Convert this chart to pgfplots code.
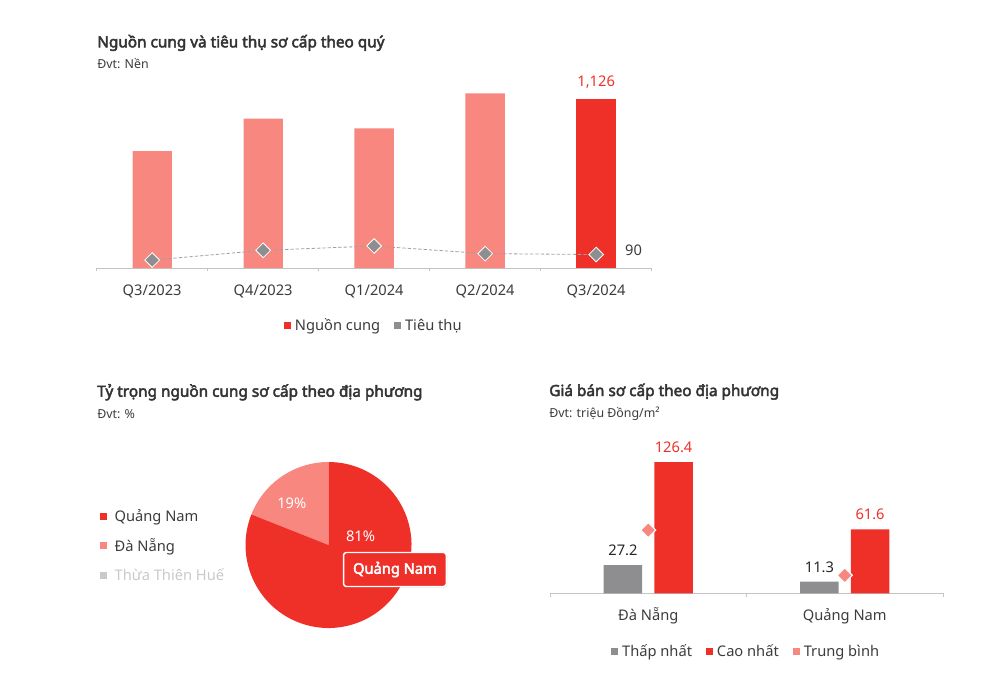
\documentclass[border=0pt]{standalone}
\usepackage{fontspec}
\setmainfont{Noto Sans}[BoldFont={Noto Sans}, BoldFeatures={FakeBold=3}]
\usepackage{pgfplots}
\pgfplotsset{compat=1.18}
\usetikzlibrary{shadows}

\definecolor{cRed}{HTML}{EE3029}
\definecolor{cSalmon}{HTML}{F8877F}
\definecolor{cGray}{HTML}{8E8E90}
\definecolor{cLight}{HTML}{C9C9C9}
\definecolor{cAxis}{HTML}{C4C4C4}
\definecolor{cText}{HTML}{3C3C3C}
\definecolor{cTitle}{HTML}{333333}
\definecolor{cLine}{HTML}{A0A0A0}

\newcommand\lbl{\fontsize{11}{13}\selectfont}
\newcommand\ttl{\bfseries\fontsize{11.5}{13}\selectfont}
\newcommand\sub{\fontsize{9.3}{11}\selectfont}

\pgfplotsset{
  sqlegend/.style={
    legend image code/.code={\fill[##1] (0pt,-2.25pt) rectangle (4.5pt,2.25pt); \path[draw=none, fill=none] (0pt,0pt) -- (#1,0pt);},
  },
  chartbase/.style={
    scale only axis, anchor=south west, clip=false,
    axis x line*=bottom, axis y line=none,
    axis line style={cAxis, line width=0.6pt},
    major tick length=0pt,
    minor tick length=2.5pt, tick align=outside,
    minor tick style={cAxis, line width=0.6pt},
    xticklabel style={font=\lbl, text=cText, anchor=base, yshift=-20.5pt},
    /pgf/number format/assume math mode=true,
    sqlegend=6pt,
    legend style={draw=none, fill=none, font=\lbl, text=cText, legend columns=-1,
      anchor=center, /tikz/every even column/.append style={column sep=8.5pt}},
  },
}

% shares of the pie (percent)
\def\shDN{19}
\def\shQN{81}
\def\shTTH{0}

\begin{document}
\begin{tikzpicture}[x=0.75pt,y=-0.75pt]
\path[use as bounding box] (0,0) rectangle (1000,690);

% titles
\node[anchor=base west, inner sep=0pt, font=\ttl, text=cTitle] at (97,47.3) {Nguồn cung và tiêu thụ sơ cấp theo quý};
\node[anchor=base west, inner sep=0pt, font=\sub, text=cText] at (97,68.3) {Đvt: Nền};
\node[anchor=base west, inner sep=0pt, font=\ttl, text=cTitle] at (97,396.7) {Tỷ trọng nguồn cung sơ cấp theo địa phương};
\node[anchor=base west, inner sep=0pt, font=\sub, text=cText] at (97,418.3) {Đvt: \%};
\node[anchor=base west, inner sep=0pt, font=\ttl, text=cTitle] at (549,396) {Giá bán sơ cấp theo địa phương};
\node[anchor=base west, inner sep=0pt, font=\sub, text=cText] at (549,417.7) {Đvt: triệu Đồng/m²};

% chart 1: supply and absorption by quarter
\begin{axis}[chartbase,
  at={(72.5pt,-201pt)}, width=416.25pt, height=140.4pt,
  xmin=-0.5, xmax=4.5, ymin=0, ymax=1250,
  xtick={0,...,4}, xticklabels={Q3/2023,Q4/2023,Q1/2024,Q2/2024,Q3/2024},
  minor xtick={-0.5,0.5,1.5,2.5,3.5,4.5},
  legend style={at={(0.5,-0.308)}},
]
\addplot[ybar, bar width=29.5pt, bar shift=0pt, fill=cSalmon, draw=none, forget plot]
  coordinates {(0,781)(1,997)(2,932)(3,1166)};
\addplot[ybar, bar width=29.5pt, bar shift=0pt, fill=cRed, draw=none, forget plot,
  nodes near coords, every node near coord/.append style={font=\lbl, text=cRed, anchor=base, yshift=10pt, inner sep=0pt}]
  coordinates {(4,1126)};
\addplot[cLine, line width=0.6pt, dash pattern=on 2.5pt off 1.5pt, forget plot,
  mark=square*, mark size=3.9pt, mark options={solid, rotate=45, fill=cGray, draw=white, line width=0.6pt}]
  coordinates {(0,53)(1,118)(2,147)(3,96)(4,90)};
\node[anchor=base, inner sep=0pt, font=\lbl, text=cText, xshift=28.1pt, yshift=-1.1pt] at (axis cs:4,90) {90};
\addlegendimage{cRed}\addlegendentry{Nguồn cung}
\addlegendimage{cGray}\addlegendentry{Tiêu thụ}
\end{axis}

% chart 2: share by locality (pie)
\pgfmathsetmacro\aDN{90+3.6*\shDN}
\pgfmathsetmacro\aQN{\aDN+3.6*\shQN}
\begin{axis}[
  at={(246.4pt,-408.75pt)}, anchor=center, scale only axis,
  width=124.5pt, height=124.5pt, xmin=-1, xmax=1, ymin=-1, ymax=1,
  hide axis, clip=false, sqlegend=9pt,
  legend cell align=left,
  legend style={at={(-0.904,0.496)}, anchor=west, draw=none, fill=none, font=\lbl, text=cText,
    legend columns=1, row sep=7.2pt},
]
\addlegendimage{cRed}\addlegendentry{Quảng Nam}
\addlegendimage{cSalmon}\addlegendentry{Đà Nẵng}
\addlegendimage{cLight}\addlegendentry{\textcolor{cLight}{Thừa Thiên Huế}}
\fill[cSalmon] (axis cs:0,0) -- ++(90:62.25pt) arc[start angle=90, end angle=\aDN, radius=62.25pt] -- cycle;
\fill[cRed] (axis cs:0,0) -- ++(\aDN:62.25pt) arc[start angle=\aDN, end angle=\aQN, radius=62.25pt] -- cycle;
\node[font=\lbl, text=white] at (axis cs:-0.443,0.502) {\shDN\%};
\node[font=\lbl, text=white] at (axis cs:0.386,0.108) {\shQN\%};
\node[fill=cRed, draw=white, line width=1.1pt, rounded corners=2pt, font=\bfseries\lbl, text=white,
  minimum width=77pt, minimum height=25.5pt, inner sep=2pt,
  drop shadow={opacity=0.2, shadow xshift=0.8pt, shadow yshift=-0.8pt}]
  at (axis cs:0.80,-0.295) {Quảng Nam};
\end{axis}

% chart 3: primary price by locality
\begin{axis}[chartbase,
  at={(412.5pt,-445pt)}, width=294.75pt, height=108.9pt,
  xmin=-0.5, xmax=1.5, ymin=0, ymax=140,
  xtick={0,1}, xticklabels={Đà Nẵng,Quảng Nam},
  minor xtick={-0.5,0.5,1.5},
  legend style={at={(0.5,-0.402)}},
]
\addplot[ybar, bar width=28.9pt, bar shift=-19pt, fill=cGray, draw=none, forget plot,
  nodes near coords, every node near coord/.append style={font=\lbl, text=black!85, anchor=base, xshift=-19pt, yshift=7pt, inner sep=0pt}]
  coordinates {(0,27.2)(1,11.3)};
\addplot[ybar, bar width=28.9pt, bar shift=19pt, fill=cRed, draw=none, forget plot,
  nodes near coords, every node near coord/.append style={font=\lbl, text=cRed, anchor=base, xshift=19pt, yshift=7.3pt, inner sep=0pt}]
  coordinates {(0,126.4)(1,61.6)};
\addplot[only marks, forget plot, mark=square*, mark size=4pt,
  mark options={rotate=45, fill=cSalmon, draw=white, line width=0.8pt}]
  coordinates {(0,61)(1,17.4)};
\addlegendimage{cGray}\addlegendentry{Thấp nhất}
\addlegendimage{cRed}\addlegendentry{Cao nhất}
\addlegendimage{cSalmon}\addlegendentry{Trung bình}
\end{axis}
\end{tikzpicture}
\end{document}
